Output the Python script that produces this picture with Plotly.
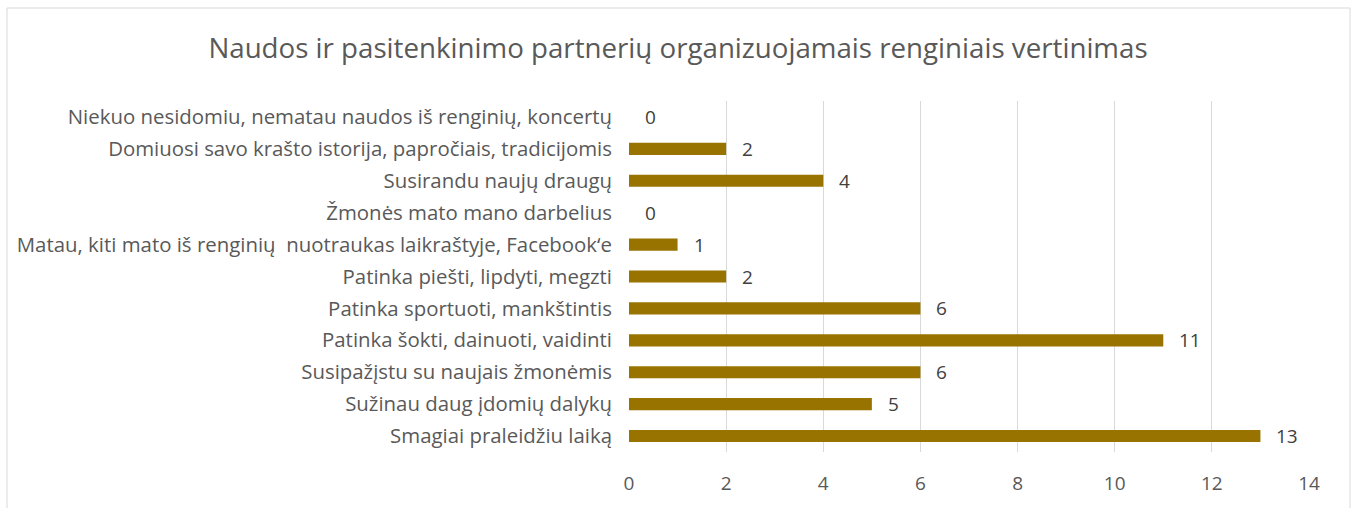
import plotly.graph_objects as go

categories = [
    "Smagiai praleidžiu laiką",
    "Sužinau daug įdomių dalykų",
    "Susipažįstu su naujais žmonėmis",
    "Patinka šokti, dainuoti, vaidinti",
    "Patinka sportuoti, mankštintis",
    "Patinka piešti, lipdyti, megzti",
    "Matau, kiti mato iš renginių  nuotraukas laikraštyje, Facebook‘e",
    "Žmonės mato mano darbelius",
    "Susirandu naujų draugų",
    "Domiuosi savo krašto istorija, papročiais, tradicijomis",
    "Niekuo nesidomiu, nematau naudos iš renginių, koncertų",
]
values = [13, 5, 6, 11, 6, 2, 1, 0, 4, 2, 0]
x_ticks = [0, 2, 4, 6, 8, 10, 12, 14]
title = "Naudos ir pasitenkinimo partnerių organizuojamais renginiais vertinimas"

FONT = "Open Sans"

fig = go.Figure()
fig.add_trace(go.Bar(
    y=categories, x=values, orientation="h",
    marker=dict(color="#997300", line=dict(width=0)),
    width=0.38, hoverinfo="x+y",
))

annotations = []
for c, v in zip(categories, values):
    annotations.append(dict(
        x=v, y=c, xref="x", yref="y", text=str(v), showarrow=False,
        xanchor="left", xshift=14, font=dict(family=FONT, size=19, color="#404040"),
    ))

fig.update_layout(
    width=1351, height=508,
    margin=dict(l=629, r=42, t=101, b=56),
    paper_bgcolor="white", plot_bgcolor="white",
    showlegend=False,
    font=dict(family=FONT, size=19, color="#595959"),
    title=dict(text=title, x=678 / 1351, xanchor="center", y=1 - 48 / 508, yanchor="middle",
               font=dict(family=FONT, size=27.7, color="#595959")),
    xaxis=dict(range=[0, 14], tickvals=x_ticks, showgrid=True, gridcolor="#d9d9d9", gridwidth=1,
               zeroline=False, showline=False, ticks="", ticklabelstandoff=18,
               tickfont=dict(family=FONT, size=19, color="#595959"), fixedrange=True),
    yaxis=dict(categoryorder="array", categoryarray=categories, showgrid=False, zeroline=False,
               showline=False, ticks="", ticklabelstandoff=16,
               tickfont=dict(family=FONT, size=20.4, color="#595959"), fixedrange=True),
    annotations=annotations,
    shapes=[dict(type="rect", xref="paper", yref="paper",
                 x0=(7 - 629) / 680, x1=(1350 - 629) / 680,
                 y0=-1, y1=(452 - 8) / 351,
                 line=dict(color="#d9d9d9", width=1), layer="below")],
)

fig.write_html("out.html", config={"displayModeBar": False},
               post_script="document.body.style.margin='0';document.body.style.overflow='hidden';")
